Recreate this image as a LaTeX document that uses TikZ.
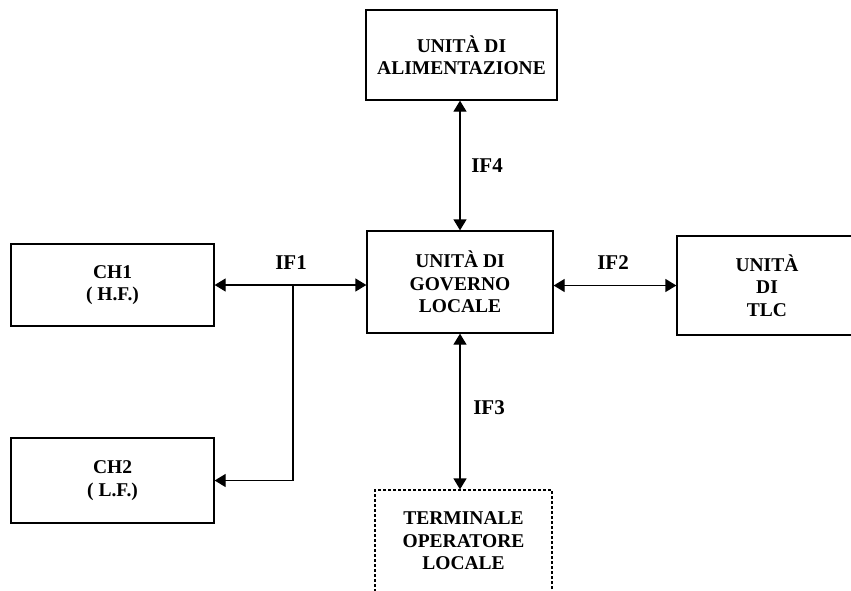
\documentclass[tikz,border=0pt]{standalone}
\usepackage{fontspec}
\setmainfont{Liberation Serif}
\usetikzlibrary{arrows.meta,calc}
\tikzset{
  blk/.style={draw, line width=1.3pt, rectangle, align=center, inner sep=0pt,
    font=\bfseries\fontsize{19.5}{22.5}\selectfont},
  dblk/.style={blk, line width=1.2pt, dash pattern=on 3pt off 2pt},
  lbl/.style={font=\bfseries\fontsize{21}{24}\selectfont, inner sep=0pt},
  conn/.style={line width=1.3pt, {Triangle[length=11pt,width=13pt]}-{Triangle[length=11pt,width=13pt]}},
  oneway/.style={line width=1.3pt, -{Triangle[length=11pt,width=13pt]}}
}
\begin{document}
\begin{tikzpicture}[x=1pt,y=-1pt]
\useasboundingbox (0,0) rectangle (851,590);
\clip (0,0) rectangle (851,590);
\node[blk, minimum width=191pt, minimum height=90pt] (alim) at (461.5,55) {UNITÀ DI\\ALIMENTAZIONE};
\node[blk, minimum width=186pt, minimum height=102pt] (gov) at (460,282) {UNITÀ DI\\GOVERNO\\LOCALE};
\node[blk, minimum width=203pt, minimum height=82pt] (ch1) at (112.5,285) {CH1\\( H.F.)};
\node[blk, minimum width=203pt, minimum height=85pt] (ch2) at (112.5,480.5) {CH2\\( L.F.)};
\node[blk, minimum width=180pt, minimum height=99pt] (tlc) at (767,285.5) {UNITÀ\\DI\\TLC};
\node[dblk, minimum width=177pt, minimum height=102pt] (term) at (463.5,541) {TERMINALE\\OPERATORE\\LOCALE};
\draw[conn] (alim.south -| gov.north) -- (gov.north);
\draw[conn] (gov.south) -- (gov.south |- term.north);
\draw[conn] (ch1.east) -- (ch1.east -| gov.west);
\draw[conn] (tlc.west -| gov.east) -- (tlc.west);
\coordinate (br) at (293,285);
\draw[oneway] (br) |- (ch2.east);
\node[lbl] (if1) at (291,263) {IF1};
\node[lbl] (if2) at (613,263) {IF2};
\node[lbl] (if4) at (487,166) {IF4};
\node[lbl] (if3) at (489,408) {IF3};
\end{tikzpicture}
\end{document}
